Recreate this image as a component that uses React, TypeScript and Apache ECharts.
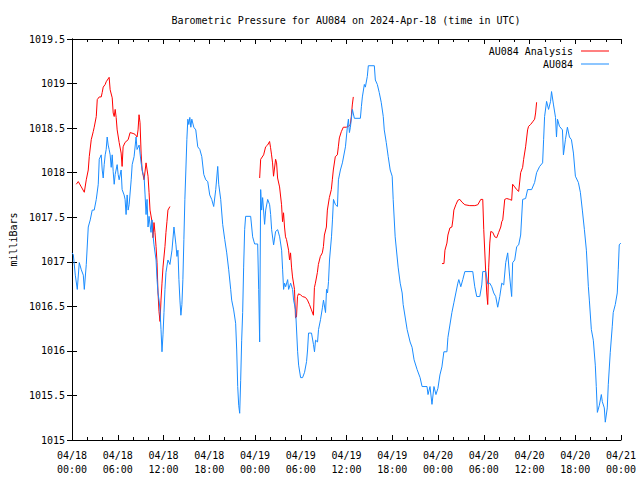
import React, { useEffect, useRef } from "react";
import * as echarts from "echarts";

// hours since 2024-04-18 00:00 UTC, pressure in milliBars
const observed: [number, number][] = [
  [0, 1017.1], [0.17, 1017.08], [0.43, 1016.85], [0.69, 1016.69], [0.95, 1016.99], [1.22, 1016.91],
  [1.48, 1016.85], [1.61, 1016.69], [1.87, 1016.97], [2.13, 1017.39], [2.39, 1017.47], [2.65, 1017.58],
  [2.91, 1017.58], [3.18, 1017.7], [3.44, 1017.87], [3.57, 1018.15], [3.83, 1018.2], [3.96, 1018.03],
  [4.09, 1017.94], [4.22, 1018.09], [4.35, 1018.2], [4.48, 1018.26], [4.61, 1018.4], [4.74, 1018.31],
  [4.87, 1018.26], [5.0, 1018.2], [5.14, 1018.06], [5.27, 1018.2], [5.4, 1018.01], [5.53, 1017.87],
  [5.66, 1017.98], [5.92, 1018.09], [6.05, 1017.98], [6.18, 1017.92], [6.44, 1018.03], [6.57, 1017.81],
  [6.83, 1017.75], [6.96, 1017.7], [7.09, 1017.53], [7.23, 1017.75], [7.36, 1017.58], [7.49, 1017.64],
  [7.76, 1017.92], [7.89, 1018.09], [8.14, 1018.18], [8.4, 1018.4], [8.53, 1018.26], [8.8, 1018.31],
  [9.06, 1018.11], [9.32, 1017.98], [9.45, 1017.96], [9.58, 1017.75], [9.71, 1017.53], [9.84, 1017.7],
  [9.97, 1017.39], [10.1, 1017.51], [10.36, 1017.33], [10.49, 1017.47], [10.62, 1017.3], [10.75, 1017.19],
  [11.02, 1017.02], [11.15, 1016.8], [11.28, 1016.65], [11.41, 1016.57], [11.54, 1016.46], [11.67, 1016.24],
  [11.8, 1015.99], [11.93, 1016.18], [12.06, 1016.43], [12.19, 1016.69], [12.32, 1016.88], [12.58, 1017.02],
  [12.84, 1016.97], [13.11, 1017.13], [13.37, 1017.39], [13.63, 1017.19], [13.76, 1017.06], [13.89, 1017.13],
  [14.02, 1016.8], [14.15, 1016.57], [14.28, 1016.4], [14.41, 1016.52], [14.54, 1016.8], [14.67, 1017.25],
  [14.8, 1017.7], [14.93, 1018.03], [15.06, 1018.37], [15.19, 1018.6], [15.32, 1018.54], [15.45, 1018.62],
  [15.58, 1018.51], [15.71, 1018.6], [15.97, 1018.51], [16.23, 1018.48], [16.49, 1018.29], [16.76, 1018.26],
  [17.02, 1018.18], [17.28, 1017.98], [17.54, 1017.92], [17.8, 1017.9], [18.06, 1017.75], [18.32, 1017.7],
  [18.58, 1017.62], [18.85, 1017.81], [19.11, 1018.07], [19.24, 1017.87], [19.5, 1017.7], [19.76, 1017.42],
  [20.03, 1017.25], [20.29, 1017.1], [20.55, 1016.91], [20.81, 1016.69], [20.94, 1016.57], [21.2, 1016.46],
  [21.46, 1016.31], [21.6, 1016.01], [21.73, 1015.6], [21.86, 1015.39], [21.99, 1015.3], [22.12, 1015.67],
  [22.25, 1016.12], [22.38, 1016.43], [22.51, 1016.94], [22.64, 1017.36], [22.77, 1017.51], [23.43, 1017.51],
  [23.69, 1017.28], [23.95, 1017.2], [24.35, 1017.2], [24.48, 1016.69], [24.61, 1016.1], [24.74, 1017.81],
  [24.87, 1017.58], [25.0, 1017.72], [25.26, 1017.42], [25.4, 1017.58], [25.66, 1017.7], [25.92, 1017.64],
  [26.05, 1017.53], [26.18, 1017.36], [26.44, 1017.19], [26.7, 1017.34], [26.97, 1017.36], [27.23, 1017.28],
  [27.49, 1017.13], [27.62, 1016.91], [27.75, 1016.69], [27.88, 1016.76], [28.02, 1016.72], [28.28, 1016.8],
  [28.41, 1016.69], [28.67, 1016.76], [28.93, 1016.69], [29.06, 1016.57], [29.32, 1016.46], [29.59, 1015.99],
  [29.72, 1015.84], [29.98, 1015.7], [30.24, 1015.7], [30.5, 1015.76], [30.76, 1015.88], [30.89, 1016.01],
  [31.02, 1016.2], [31.41, 1016.2], [31.67, 1016.07], [31.8, 1015.99], [31.94, 1016.12], [32.2, 1016.1],
  [32.33, 1016.24], [32.59, 1016.35], [32.85, 1016.49], [32.98, 1016.57], [33.25, 1016.43], [33.38, 1016.69],
  [33.51, 1016.65], [33.64, 1016.78], [33.77, 1017.02], [34.03, 1017.28], [34.16, 1017.47], [34.29, 1017.7],
  [34.55, 1017.64], [34.81, 1017.62], [34.94, 1017.92], [35.2, 1018.03], [35.46, 1018.11], [35.86, 1018.29],
  [36.12, 1018.52], [36.25, 1018.6], [36.38, 1018.45], [36.51, 1018.51], [36.77, 1018.71], [37.03, 1018.61],
  [37.82, 1018.61], [37.95, 1018.74], [38.08, 1018.85], [38.34, 1018.99], [38.47, 1018.96], [38.73, 1019.08],
  [38.86, 1019.2], [39.65, 1019.2], [39.78, 1019.04], [40.04, 1018.99], [40.29, 1018.9], [40.55, 1018.79],
  [40.82, 1018.63], [40.95, 1018.48], [41.21, 1018.34], [41.47, 1018.18], [41.73, 1018.03], [41.99, 1017.96],
  [42.12, 1017.7], [42.38, 1017.28], [42.77, 1016.94], [43.04, 1016.76], [43.3, 1016.65], [43.43, 1016.52],
  [43.69, 1016.38], [43.95, 1016.24], [44.34, 1016.1], [44.6, 1016.04], [44.86, 1015.9], [45.26, 1015.79],
  [45.65, 1015.7], [45.91, 1015.6], [46.56, 1015.6], [46.69, 1015.51], [46.95, 1015.6], [47.21, 1015.4],
  [47.47, 1015.6], [47.73, 1015.51], [47.99, 1015.58], [48.25, 1015.73], [48.51, 1015.82], [48.77, 1015.99],
  [49.17, 1015.99], [49.3, 1016.15], [49.56, 1016.29], [49.82, 1016.43], [50.08, 1016.54], [50.34, 1016.65],
  [50.6, 1016.76], [50.73, 1016.8], [50.99, 1016.72], [51.25, 1016.8], [51.52, 1016.89], [52.56, 1016.89],
  [52.82, 1016.72], [53.08, 1016.61], [53.48, 1016.61], [53.74, 1016.74], [53.87, 1016.89], [54.27, 1016.89],
  [54.53, 1016.75], [54.79, 1016.76], [55.05, 1016.72], [55.31, 1016.65], [55.57, 1016.61], [55.83, 1016.49],
  [56.1, 1016.61], [56.36, 1016.76], [56.62, 1016.74], [56.88, 1016.99], [57.14, 1017.1], [57.4, 1016.83],
  [57.66, 1016.61], [57.79, 1016.99], [58.06, 1017.02], [58.32, 1017.17], [58.58, 1017.19], [58.84, 1017.3],
  [59.1, 1017.7], [59.49, 1017.71], [59.75, 1017.81], [60.28, 1017.81], [60.67, 1017.89], [60.93, 1018.0],
  [61.33, 1018.07], [61.72, 1018.11], [61.85, 1018.37], [61.98, 1018.63], [62.24, 1018.8], [62.5, 1018.71],
  [62.76, 1018.8], [62.89, 1018.91], [63.15, 1018.76], [63.41, 1018.62], [63.54, 1018.4], [63.67, 1018.6],
  [63.93, 1018.52], [64.32, 1018.48], [64.45, 1018.2], [64.71, 1018.37], [64.97, 1018.51], [65.24, 1018.4],
  [65.5, 1018.37], [65.76, 1018.22], [66.02, 1017.96], [66.41, 1017.89], [66.67, 1017.78], [66.93, 1017.58],
  [67.2, 1017.36], [67.46, 1017.13], [67.72, 1016.72], [67.85, 1016.57], [68.11, 1016.24], [68.37, 1016.12],
  [68.63, 1015.84], [68.76, 1015.6], [68.9, 1015.31], [69.16, 1015.39], [69.42, 1015.51], [69.55, 1015.43],
  [69.81, 1015.36], [69.94, 1015.2], [70.2, 1015.36], [70.33, 1015.62], [70.59, 1015.98], [70.85, 1016.27],
  [70.98, 1016.43], [71.25, 1016.52], [71.51, 1016.65], [71.64, 1016.91], [71.77, 1017.19], [71.97, 1017.21],
];

const analysisSeg1: [number, number][] = [
  [0.56, 1017.87], [0.82, 1017.9], [1.22, 1017.84], [1.61, 1017.78], [1.87, 1017.92], [2.13, 1018.03],
  [2.26, 1018.18], [2.52, 1018.37], [2.78, 1018.46], [2.91, 1018.51], [3.18, 1018.63], [3.31, 1018.82],
  [3.57, 1018.85], [3.83, 1018.85], [3.96, 1018.9], [4.09, 1018.96], [4.35, 1018.99], [4.48, 1019.02],
  [4.87, 1019.07], [5.0, 1018.93], [5.27, 1018.84], [5.4, 1018.67], [5.53, 1018.63], [5.66, 1018.71],
  [5.79, 1018.62], [5.92, 1018.48], [6.18, 1018.34], [6.44, 1018.22], [6.57, 1018.07], [6.7, 1018.29],
  [6.96, 1018.34], [7.36, 1018.37], [7.62, 1018.45], [8.01, 1018.44], [8.27, 1018.43], [8.53, 1018.4],
  [8.66, 1018.48], [8.79, 1018.65], [8.92, 1018.56], [9.06, 1018.22], [9.19, 1018.03], [9.45, 1017.92],
  [9.71, 1018.11], [9.97, 1017.96], [10.1, 1017.78], [10.23, 1017.58], [10.49, 1017.45], [10.62, 1017.27],
  [10.75, 1017.44], [10.88, 1017.33], [11.02, 1017.17], [11.15, 1016.99], [11.28, 1016.65], [11.41, 1016.44],
  [11.54, 1016.33], [11.67, 1016.57], [11.8, 1016.76], [11.93, 1016.94], [12.19, 1017.17], [12.32, 1017.33],
  [12.45, 1017.45], [12.58, 1017.58], [12.84, 1017.62],
];

const analysisSeg2: [number, number][] = [
  [24.61, 1017.94], [24.74, 1018.15], [25.13, 1018.2], [25.39, 1018.29], [25.65, 1018.31], [25.91, 1018.35],
  [26.04, 1018.28], [26.17, 1018.2], [26.3, 1018.11], [26.43, 1017.96], [26.7, 1018.15], [26.83, 1018.11],
  [26.96, 1017.94], [27.22, 1017.84], [27.48, 1017.64], [27.61, 1017.45], [27.74, 1017.55], [27.87, 1017.39],
  [28.0, 1017.28], [28.13, 1017.25], [28.4, 1017.13], [28.53, 1017.02], [28.66, 1017.1], [28.79, 1016.94],
  [28.92, 1016.83], [29.18, 1016.69], [29.31, 1016.37], [29.44, 1016.38], [29.57, 1016.61], [29.7, 1016.64],
  [29.96, 1016.63], [30.22, 1016.61], [30.62, 1016.6], [30.88, 1016.57], [31.14, 1016.52], [31.4, 1016.46],
  [31.66, 1016.4], [31.79, 1016.71], [31.92, 1016.76], [32.18, 1016.88], [32.31, 1016.97], [32.57, 1017.06],
  [32.83, 1017.1], [32.97, 1017.17], [33.1, 1017.3], [33.36, 1017.39], [33.49, 1017.58], [33.75, 1017.72],
  [34.01, 1017.81], [34.14, 1017.92], [34.27, 1018.03], [34.53, 1018.18], [34.8, 1018.2], [34.93, 1018.29],
  [35.06, 1018.39], [35.32, 1018.46], [35.58, 1018.51], [35.97, 1018.51], [36.24, 1018.52], [36.5, 1018.54],
  [36.63, 1018.63], [36.76, 1018.76], [36.89, 1018.85],
];

const analysisSeg3: [number, number][] = [
  [48.52, 1016.98], [48.78, 1016.98], [48.91, 1017.13], [49.17, 1017.21], [49.3, 1017.3], [49.56, 1017.38],
  [49.82, 1017.39], [49.95, 1017.47], [50.08, 1017.58], [50.34, 1017.64], [50.6, 1017.69], [50.86, 1017.7],
  [51.13, 1017.67], [51.52, 1017.64], [52.17, 1017.63], [52.83, 1017.63], [53.22, 1017.64], [53.61, 1017.7],
  [53.87, 1017.7], [54.0, 1017.36], [54.26, 1016.88], [54.39, 1016.65], [54.52, 1016.52], [54.65, 1016.94],
  [54.79, 1017.21], [54.92, 1017.34], [55.18, 1017.33], [55.44, 1017.28], [55.7, 1017.27], [55.96, 1017.33],
  [56.23, 1017.39], [56.36, 1017.45], [56.49, 1017.47], [56.62, 1017.58], [56.75, 1017.7], [57.01, 1017.71],
  [57.4, 1017.7], [57.66, 1017.69], [57.79, 1017.87], [58.06, 1017.84], [58.32, 1017.81], [58.58, 1017.79],
  [58.84, 1018.0], [59.1, 1018.06], [59.23, 1018.15], [59.49, 1018.29], [59.75, 1018.48], [59.88, 1018.52],
  [60.14, 1018.54], [60.41, 1018.57], [60.67, 1018.6], [60.8, 1018.67], [60.93, 1018.79],
];

const startMonth = "04";
const startDay = 18;
const xMax = 72;
const xInterval = 6;
const yMin = 1015;
const yMax = 1019.5;
const yInterval = 0.5;

const seriesNames = ["AU084 Analysis", "AU084"];
const titleText = "Barometric Pressure for AU084 on 2024-Apr-18 (time in UTC)";
const yAxisName = "milliBars";

const FONT = "DejaVu Sans Mono";

function timeLabel(h: number): string {
  const d = startDay + Math.floor(h / 24);
  const hr = Math.round(h % 24);
  return `${startMonth}/${String(d).padStart(2, "0")}\n${String(hr).padStart(2, "0")}:00`;
}

export default function App() {
  const ref = useRef<HTMLDivElement>(null);

  useEffect(() => {
    if (!ref.current) return;
    const chart = echarts.init(ref.current, undefined, { renderer: "svg" });

    const analysisData = [
      ...analysisSeg1,
      [18, "-"],
      ...analysisSeg2,
      [42, "-"],
      ...analysisSeg3,
    ];

    const textStyle = { fontFamily: FONT, fontSize: 10, color: "#000" };
    const axisLine = { show: true, lineStyle: { color: "#000", width: 1 } };

    const xCommon = {
      type: "value" as const,
      min: 0,
      max: xMax,
      interval: xInterval,
      splitLine: { show: false },
      axisLine,
      axisTick: { show: true, inside: true, length: 5, lineStyle: { color: "#000" } },
      minorTick: { show: true, splitNumber: 3, length: 3, lineStyle: { color: "#000" } },
    };
    const yCommon = {
      type: "value" as const,
      min: yMin,
      max: yMax,
      interval: yInterval,
      splitLine: { show: false },
      axisLine,
      axisTick: { show: true, inside: true, length: 5, lineStyle: { color: "#000" } },
    };

    const legendCommon = {
      right: 26,
      orient: "vertical" as const,
      align: "right" as const,
      icon: "rect",
      itemWidth: 28,
      itemHeight: 1,
      itemGap: 0,
      textStyle: { ...textStyle, lineHeight: 12, padding: [0, 3, 0, 0] },
      selectedMode: false,
    };

    chart.setOption({
      animation: false,
      backgroundColor: "#fff",
      grid: { left: 70, right: 19, top: 39, bottom: 40, containLabel: false },
      graphic: [
        {
          type: "text",
          x: 346,
          y: 20,
          style: {
            text: titleText,
            font: `10px "${FONT}"`,
            fill: "#000",
            textAlign: "center",
            textVerticalAlign: "middle",
          },
        },
      ],
      legend: [
        { ...legendCommon, data: [seriesNames[0]], top: 40 },
        { ...legendCommon, data: [seriesNames[1]], top: 53 },
      ],
      xAxis: [
        {
          ...xCommon,
          position: "bottom",
          axisLabel: {
            ...textStyle,
            margin: 8,
            lineHeight: 14,
            formatter: (v: number) => timeLabel(v),
          },
        },
        {
          ...xCommon,
          position: "top",
          axisLabel: { show: false },
        },
      ],
      yAxis: [
        {
          ...yCommon,
          position: "left",
          name: yAxisName,
          nameLocation: "middle",
          nameGap: 52,
          nameRotate: 90,
          nameTextStyle: { ...textStyle },
          axisLabel: { ...textStyle, margin: 7, formatter: (v: number) => String(v) },
        },
        {
          ...yCommon,
          position: "right",
          axisLabel: { show: false },
        },
      ],
      series: [
        {
          name: seriesNames[0],
          type: "line",
          data: analysisData,
          xAxisIndex: 0,
          yAxisIndex: 0,
          showSymbol: false,
          symbol: "none",
          connectNulls: false,
          color: "#ff0000",
          lineStyle: { color: "#ff0000", width: 1 },
        },
        {
          name: seriesNames[1],
          type: "line",
          data: observed,
          xAxisIndex: 0,
          yAxisIndex: 0,
          showSymbol: false,
          symbol: "none",
          color: "#1a8cff",
          lineStyle: { color: "#1a8cff", width: 1 },
        },
      ],
    });

    return () => chart.dispose();
  }, []);

  return (
    <div
      ref={ref}
      style={{ position: "fixed", left: 0, top: 0, width: 640, height: 480, background: "#fff" }}
    />
  );
}
